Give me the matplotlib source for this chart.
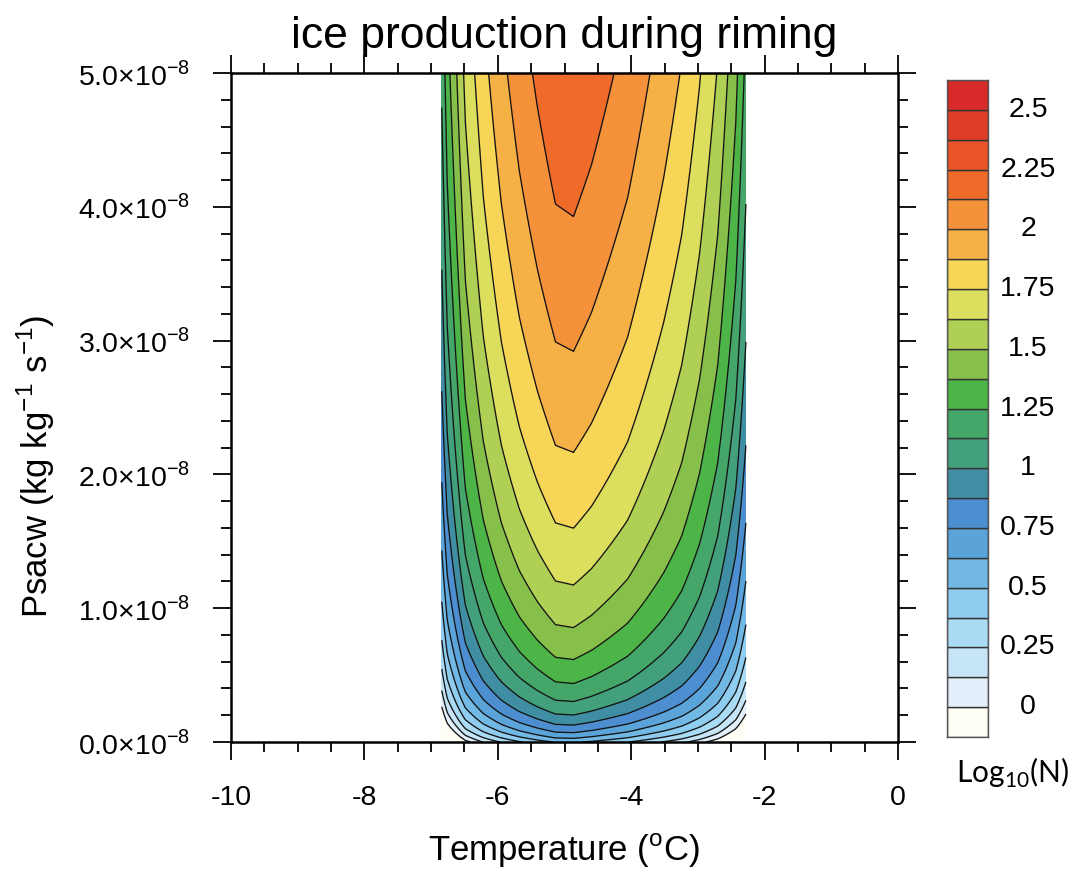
import numpy as np
import matplotlib
matplotlib.use("Agg")
import matplotlib.pyplot as plt
from matplotlib.patches import Rectangle

# ---------------- data ----------------
# temperature columns of the data grid (deg C)
temps = [-6.84, -6.757, -6.486, -6.216, -5.946, -5.676, -5.405, -5.135, -4.865,
         -4.595, -4.324, -4.054, -3.784, -3.514, -3.243, -2.973, -2.703, -2.432, -2.28]
# log10 of the production coefficient (N per unit Psacw) in each column
log_coeff = [8.44, 8.62, 8.95, 9.13, 9.26, 9.36, 9.44, 9.51, 9.52,
             9.48, 9.43, 9.38, 9.31, 9.24, 9.16, 9.05, 8.91, 8.70, 8.51]
# riming rate axis (kg kg-1 s-1) and the offset of the bottom data row
psacw = np.linspace(0.0, 5e-8, 601)
psacw_offset = 1e-9

levels = [0, 0.125, 0.25, 0.375, 0.5, 0.625, 0.75, 0.875, 1.0, 1.125, 1.25,
          1.375, 1.5, 1.625, 1.75, 1.875, 2.0, 2.125, 2.25, 2.375, 2.5]
colors = ["#FEFEF6", "#E2EEFA", "#C6E6F7", "#AADBF5", "#8ECDEF", "#72B8E5",
          "#5BA4DA", "#4C8ECF", "#3F8EA3", "#42A07C", "#45A66A", "#4DB548",
          "#86C04B", "#AFCF55", "#DCDE5D", "#F7D556", "#F6B146", "#F4913A",
          "#F06B29", "#E85427", "#E03D26", "#D82A28"]
cbar_labels = ["0", "0.25", "0.5", "0.75", "1", "1.25", "1.5", "1.75", "2", "2.25", "2.5"]

xticks = [-10, -8, -6, -4, -2, 0]
xtick_labels = ["-10", "-8", "-6", "-4", "-2", "0"]
yticks = [0.0, 1e-8, 2e-8, 3e-8, 4e-8, 5e-8]
ytick_labels = [r"0.0×10$^{\mathregular{-8}}$", r"1.0×10$^{\mathregular{-8}}$",
                r"2.0×10$^{\mathregular{-8}}$", r"3.0×10$^{\mathregular{-8}}$",
                r"4.0×10$^{\mathregular{-8}}$", r"5.0×10$^{\mathregular{-8}}$"]

title = "ice production during riming"
xlabel = r"Temperature ($^{\mathregular{o}}$C)"
ylabel = r"Psacw (kg kg$^{\mathregular{-1}}$ s$^{\mathregular{-1}}$)"
cbar_title = r"Log$_{\mathregular{10}}$(N)"

# ---------------- figure ----------------
plt.rcParams["font.family"] = ["Liberation Sans", "DejaVu Sans"]
W, H = 1073, 873
fig = plt.figure(figsize=(W / 100, H / 100), dpi=100)

def px_rect(x0, y0, x1, y1):
    return [x0 / W, 1 - y1 / H, (x1 - x0) / W, (y1 - y0) / H]

ax = fig.add_axes(px_rect(231, 73, 898, 742))

T = np.array(temps)
Z = np.array(log_coeff)[None, :] + np.log10(psacw[:, None] + psacw_offset)

ax.contourf(T, psacw, Z, levels=levels, colors=colors, extend="both")
ax.contour(T, psacw, Z, levels=levels, colors="#141414", linewidths=0.95)

ax.set_xlim(-10, 0)
ax.set_ylim(0, 5e-8)
ax.set_xticks(xticks)
ax.set_xticklabels(xtick_labels)
ax.set_yticks(yticks)
ax.set_yticklabels(ytick_labels)
ax.set_xticks(np.arange(-10, 0.01, 0.5), minor=True)
ax.set_yticks(np.arange(0, 5.01e-8, 0.2e-8), minor=True)
ax.tick_params(which="both", direction="out", top=True, right=True, width=1.3,
               labelsize=20.5, colors="black")
ax.tick_params(which="major", length=13)
ax.tick_params(which="minor", length=7)
ax.tick_params(axis="x", which="major", pad=18)
ax.tick_params(axis="y", which="major", pad=16.5)
for s in ax.spines.values():
    s.set_linewidth(1.8)

fig.text(564 / W, 1 - 48 / H, title, ha="center", va="baseline", fontsize=32)
fig.text(564 / W, 1 - 861 / H, xlabel, ha="center", va="baseline", fontsize=25)
fig.text(36 / W, 407 / H, ylabel, ha="center", va="center", rotation=90, fontsize=25)

# ---------------- colorbar ----------------
cax = fig.add_axes(px_rect(947, 80, 988, 737))
n = len(colors)
for i, c in enumerate(colors):
    cax.add_patch(Rectangle((0, i), 1, 1, facecolor=c, edgecolor="#333333", lw=1.0))
cax.set_xlim(0, 1)
cax.set_ylim(0, n)
cax.set_xticks([])
cax.set_yticks([])
for s in cax.spines.values():
    s.set_linewidth(1.0)
    s.set_color("#555555")
for j, lab in enumerate(cbar_labels):
    cax.text((1028 - 947) / 41, 1 + 2 * j, lab, ha="center", va="center",
             fontsize=20.5, transform=cax.transData)

fig.text(1012 / W, 1 - 783 / H, cbar_title, ha="center", va="baseline",
         fontsize=21.5, family=["Lato", "DejaVu Sans"])

fig.savefig("out.png", dpi=100)
